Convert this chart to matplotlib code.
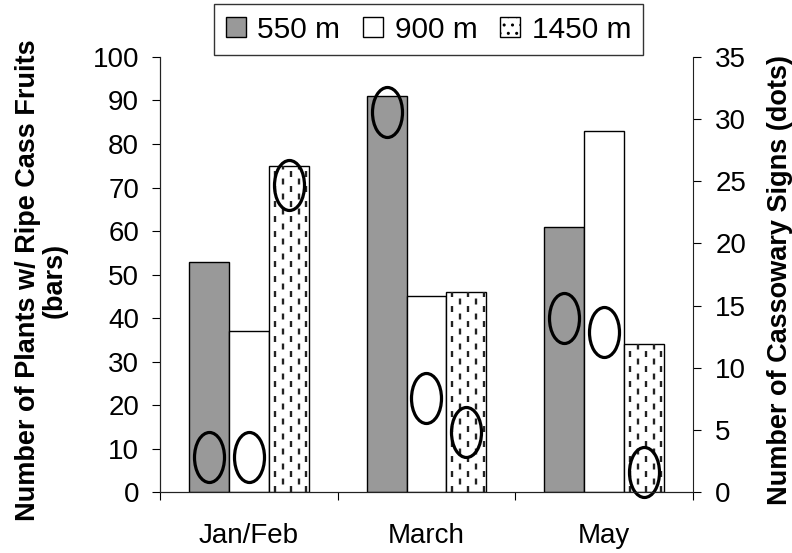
import numpy as np
import matplotlib.pyplot as plt
from matplotlib.path import Path
from matplotlib.transforms import Affine2D
from matplotlib.patches import Rectangle

plt.rcParams['font.family'] = ['Liberation Sans', 'DejaVu Sans']
plt.rcParams['lines.scale_dashes'] = False

months = ['Jan/Feb', 'March', 'May']
elevations = ['550 m', '900 m', '1450 m']

# plants with ripe cassowary fruits (bars, left axis)
plants_550 = [53, 91, 61]
plants_900 = [37, 45, 83]
plants_1450 = [75, 46, 34]

# cassowary signs (ellipses, right axis)
signs_550 = [2.8, 30.6, 14.0]
signs_900 = [2.8, 7.6, 12.9]
signs_1450 = [24.7, 4.8, 1.6]

fig = plt.figure(figsize=(7.92, 5.53), dpi=100)
ax = fig.add_axes([0.202, 0.110, 0.673, 0.787])
ax2 = ax.twinx()

x = np.arange(len(months))
w = 0.225
offs = [-w, 0, w]

b1 = ax.bar(x + offs[0], plants_550, w, color='#999999', edgecolor='black', linewidth=1)
b2 = ax.bar(x + offs[1], plants_900, w, color='white', edgecolor='black', linewidth=1)
b3 = ax.bar(x + offs[2], plants_1450, w, color='white', edgecolor='black', linewidth=1)

# dashed texture inside the 1450 m bars
for rect in b3:
    x0 = rect.get_x()
    h = rect.get_height()
    for k, f in enumerate([0.15, 0.35, 0.55, 0.75, 0.93]):
        xx = x0 + f * w
        ln, = ax.plot([xx, xx], [0, h], color='#222222', lw=1.7,
                      dashes=(4.3, 6.5) if k % 2 == 0 else (0, 5.4, 4.3, 1.1),
                      solid_capstyle='butt', dash_capstyle='butt')
        ln.set_clip_path(rect)

# tall ellipse marker
ell = Path.unit_circle().transformed(Affine2D().scale(0.6, 1.0))
for i, s in enumerate([signs_550, signs_900, signs_1450]):
    ax2.plot(x + offs[i], s, linestyle='none', marker=ell, markersize=36,
             markerfacecolor='none', markeredgecolor='black', markeredgewidth=2.3,
             clip_on=False)

ax.set_xlim(-0.5, 2.5)
ax.set_ylim(0, 100)
ax2.set_ylim(0, 35)
ax.set_yticks(np.arange(0, 101, 10))
ax2.set_yticks(np.arange(0, 36, 5))

ax.set_xticks([-0.5, 0.5, 1.5, 2.5])
ax.set_xticklabels([])
ax.set_xticks(x, minor=True)
ax.set_xticklabels(months, minor=True, fontsize=20)
ax.tick_params(axis='x', which='minor', length=0, pad=22)
ax.tick_params(axis='x', which='major', length=6, direction='out')
ax.tick_params(axis='y', labelsize=20, length=6, pad=9, direction='out')
ax2.tick_params(axis='y', labelsize=20, length=6, pad=10, direction='out')

for a in (ax, ax2):
    a.spines['top'].set_visible(False)
    for sp in a.spines.values():
        sp.set_color('#222222')
ax.spines['right'].set_visible(False)

ax.set_ylabel('Number of Plants w/ Ripe Cass Fruits\n(bars)', fontsize=19.5,
              fontweight='bold', linespacing=1.0)
ax.yaxis.set_label_coords(-0.174, 0.487)
ax2.set_ylabel('Number of Cassowary Signs (dots)', fontsize=19.5,
               fontweight='bold')
ax2.yaxis.set_label_coords(1.139, 0.487)

h1 = Rectangle((0, 0), 1, 1, facecolor='#999999', edgecolor='black', lw=1)
h2 = Rectangle((0, 0), 1, 1, facecolor='white', edgecolor='black', lw=1)
h3 = Rectangle((0, 0), 1, 1, facecolor='white', edgecolor='black', lw=1, hatch='..')
leg = fig.legend([h1, h2, h3], elevations, loc='upper center',
                 bbox_to_anchor=(0.541, 0.992), ncol=3, fontsize=21.5,
                 frameon=True, fancybox=False, edgecolor='black',
                 handlelength=0.67, handleheight=0.67, handletextpad=0.4,
                 columnspacing=0.75, borderpad=0.38, borderaxespad=0)
leg.get_frame().set_linewidth(1)

fig.savefig('out.png', dpi=100)
